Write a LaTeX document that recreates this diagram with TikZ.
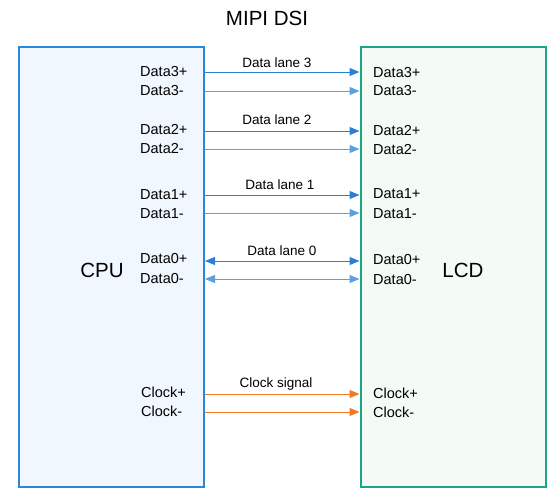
\documentclass[tikz,border=0pt]{standalone}
\usepackage{fontspec}
\setmainfont{Liberation Sans}
\usetikzlibrary{arrows.meta}
\definecolor{cpuline}{HTML}{2B87D8}
\definecolor{cpufill}{HTML}{F0F7FE}
\definecolor{lcdline}{HTML}{1AA58A}
\definecolor{lcdfill}{HTML}{F4FAF4}
\definecolor{laneplus}{HTML}{2B7FD6}
\definecolor{laneminus}{HTML}{5BA0E0}
\definecolor{clkline}{HTML}{F07A22}

\begin{document}
\begin{tikzpicture}[x=1pt, y=-1pt,
	box/.style={draw, line width=2pt, minimum width=185pt, minimum height=440pt, inner sep=0pt},
	pin/.style={anchor=west, inner sep=0pt, font=\fontsize{14.5}{16}\selectfont},
	lane/.style={inner sep=0pt, font=\fontsize{13.5}{15}\selectfont},
	sig/.style={line width=1pt, -{Triangle[length=10pt,width=8pt]}},
	sigboth/.style={line width=1pt, {Triangle[length=10pt,width=8pt]}-{Triangle[length=10pt,width=8pt]}}]
			%%%%% START %%%%%
			\useasboundingbox (0, 0) rectangle (560, 499);
			
			\node[font=\fontsize{20.5}{24}\selectfont] (title) at (267, 18) {MIPI DSI};
			
			\node[box, draw=cpuline, fill=cpufill] (cpu) at (111.5, 267) {};
			\node[box, draw=lcdline, fill=lcdfill] (lcd) at (453, 267) {};
			\node[font=\fontsize{20.5}{24}\selectfont] (cputext) at (102, 270) {CPU};
			\node[font=\fontsize{20.5}{24}\selectfont] (lcdtext) at (463, 270) {LCD};
			
			% CPU side pins
			\node[pin] (c3p) at (140, 72) {Data3+};
			\node[pin] (c3m) at (140, 91) {Data3-};
			\node[pin] (c2p) at (140, 130) {Data2+};
			\node[pin] (c2m) at (140, 149) {Data2-};
			\node[pin] (c1p) at (140, 195) {Data1+};
			\node[pin] (c1m) at (140, 214) {Data1-};
			\node[pin] (c0p) at (140, 259) {Data0+};
			\node[pin] (c0m) at (140, 279) {Data0-};
			\node[pin] (ckp) at (141, 392) {Clock+};
			\node[pin] (ckm) at (141, 411) {Clock-};
			
			% LCD side pins
			\node[pin] (l3p) at (373, 73) {Data3+};
			\node[pin] (l3m) at (373, 91) {Data3-};
			\node[pin] (l2p) at (373, 131) {Data2+};
			\node[pin] (l2m) at (373, 150) {Data2-};
			\node[pin] (l1p) at (373, 194) {Data1+};
			\node[pin] (l1m) at (373, 214) {Data1-};
			\node[pin] (l0p) at (373, 260) {Data0+};
			\node[pin] (l0m) at (373, 280) {Data0-};
			\node[pin] (lkp) at (373, 393) {Clock+};
			\node[pin] (lkm) at (373, 412) {Clock-};
			
			% lanes
			\coordinate (y3p) at (0, 72);
			\coordinate (y3m) at (0, 91);
			\coordinate (y2p) at (0, 131);
			\coordinate (y2m) at (0, 149);
			\coordinate (y1p) at (0, 195);
			\coordinate (y1m) at (0, 213);
			\coordinate (y0p) at (0, 261);
			\coordinate (y0m) at (0, 279);
			\coordinate (ykp) at (0, 394);
			\coordinate (ykm) at (0, 412);
			
			\draw[sig, laneplus] (cpu.east |- y3p) -- (lcd.west |- y3p);
			\draw[sig, laneminus] (cpu.east |- y3m) -- (lcd.west |- y3m);
			\draw[sig, laneplus] (cpu.east |- y2p) -- (lcd.west |- y2p);
			\draw[sig, laneminus] (cpu.east |- y2m) -- (lcd.west |- y2m);
			\draw[sig, laneplus] (cpu.east |- y1p) -- (lcd.west |- y1p);
			\draw[sig, laneminus] (cpu.east |- y1m) -- (lcd.west |- y1m);
			\draw[sigboth, laneplus] (cpu.east |- y0p) -- (lcd.west |- y0p);
			\draw[sigboth, laneminus] (cpu.east |- y0m) -- (lcd.west |- y0m);
			\draw[sig, clkline] (cpu.east |- ykp) -- (lcd.west |- ykp);
			\draw[sig, clkline] (cpu.east |- ykm) -- (lcd.west |- ykm);
			
			\node[lane] (lane3) at (277, 63) {Data lane 3};
			\node[lane] (lane2) at (277, 120) {Data lane 2};
			\node[lane] (lane1) at (280, 185) {Data lane 1};
			\node[lane] (lane0) at (282, 251) {Data lane 0};
			\node[lane] (clk) at (276, 384) {Clock signal};
			%%%%% END %%%%%
\end{tikzpicture}
\end{document}
